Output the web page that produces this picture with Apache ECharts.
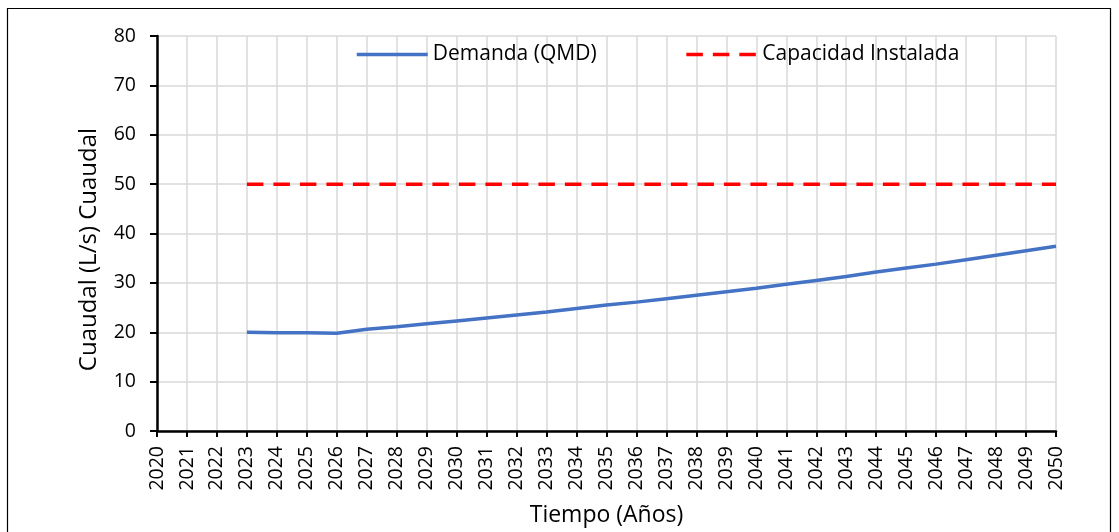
<!DOCTYPE html>
<html>
<head>
<meta charset="utf-8">
<script src="https://cdn.jsdelivr.net/npm/echarts@6/dist/echarts.min.js"></script>
<style>
  html, body { margin: 0; padding: 0; background: #fff; }
  #chart { width: 1119px; height: 532px; }
</style>
</head>
<body>
<div id="chart"></div>
<script>
// años del eje x
var years = ['2020', '2021', '2022', '2023', '2024', '2025', '2026', '2027', '2028', '2029',
  '2030', '2031', '2032', '2033', '2034', '2035', '2036', '2037', '2038', '2039',
  '2040', '2041', '2042', '2043', '2044', '2045', '2046', '2047', '2048', '2049', '2050'];

// Demanda (QMD), L/s  (sin datos 2020-2022)
var demanda = [null, null, null, 20.0, 19.9, 19.9, 19.8, 20.6, 21.1, 21.7,
  22.3, 22.9, 23.5, 24.1, 24.8, 25.5, 26.1, 26.8, 27.5, 28.2,
  28.9, 29.7, 30.5, 31.3, 32.2, 33.0, 33.8, 34.7, 35.6, 36.5, 37.4];

// Capacidad instalada, L/s
var capacidad = [null, null, null, 50, 50, 50, 50, 50, 50, 50,
  50, 50, 50, 50, 50, 50, 50, 50, 50, 50,
  50, 50, 50, 50, 50, 50, 50, 50, 50, 50, 50];

var font = '"Open Sans", sans-serif';

var myChart = echarts.init(document.getElementById('chart'));
myChart.setOption({
  animation: false,
  textStyle: { fontFamily: font, color: '#000' },
  graphic: [{
    type: 'rect',
    shape: { x: 7.5, y: 8.5, width: 1103, height: 540 },
    style: { fill: 'none', stroke: '#000', lineWidth: 1.2 },
    silent: true
  }],
  legend: {
    top: 39,
    left: 350,
    itemWidth: 71,
    itemHeight: 14,
    itemGap: 88,
    itemStyle: { opacity: 0 },
    lineStyle: { width: 3.5 },
    textStyle: { fontSize: 21, color: '#000', fontFamily: font },
    data: ['Demanda (QMD)', 'Capacidad Instalada']
  },
  grid: { left: 157, right: 63, top: 36, bottom: 101, containLabel: false },
  xAxis: {
    type: 'category',
    data: years,
    boundaryGap: false,
    name: 'Tiempo (Años)',
    nameLocation: 'middle',
    nameGap: 73,
    nameTextStyle: { fontSize: 23, color: '#000', fontFamily: font },
    axisLine: { lineStyle: { color: '#000', width: 2.5 } },
    axisTick: { show: true, length: 6, lineStyle: { color: '#000', width: 2 }, interval: 0 },
    axisLabel: { rotate: 90, interval: 0, margin: 15, fontSize: 19.5, color: '#000', fontFamily: font },
    splitLine: { show: true, interval: 0, lineStyle: { color: '#d9d9d9', width: 1.5 } }
  },
  yAxis: {
    type: 'value',
    min: 0,
    max: 80,
    interval: 10,
    name: 'Cuaudal (L/s) Cuaudal',
    nameLocation: 'middle',
    nameGap: 56,
    nameTextStyle: { fontSize: 24, color: '#000', fontFamily: font, padding: [0, 0, 0, -32] },
    axisLine: { show: true, lineStyle: { color: '#000', width: 2.5 } },
    axisTick: { show: true, length: 7, lineStyle: { color: '#000', width: 2 } },
    axisLabel: { margin: 21, fontSize: 19.5, color: '#000', fontFamily: font },
    splitLine: { show: true, lineStyle: { color: '#d9d9d9', width: 1.5 } }
  },
  series: [
    {
      name: 'Demanda (QMD)',
      type: 'line',
      data: demanda,
      symbol: 'none',
      smooth: false,
      lineStyle: { color: '#4472C4', width: 3.5 },
      itemStyle: { color: '#4472C4' }
    },
    {
      name: 'Capacidad Instalada',
      type: 'line',
      data: capacidad,
      symbol: 'none',
      lineStyle: { color: '#FF0000', width: 3.5, type: [16.5, 10] },
      itemStyle: { color: '#FF0000' }
    }
  ]
});

window.addEventListener('resize', function () {
  myChart.resize();
});
</script>
</body>
</html>
